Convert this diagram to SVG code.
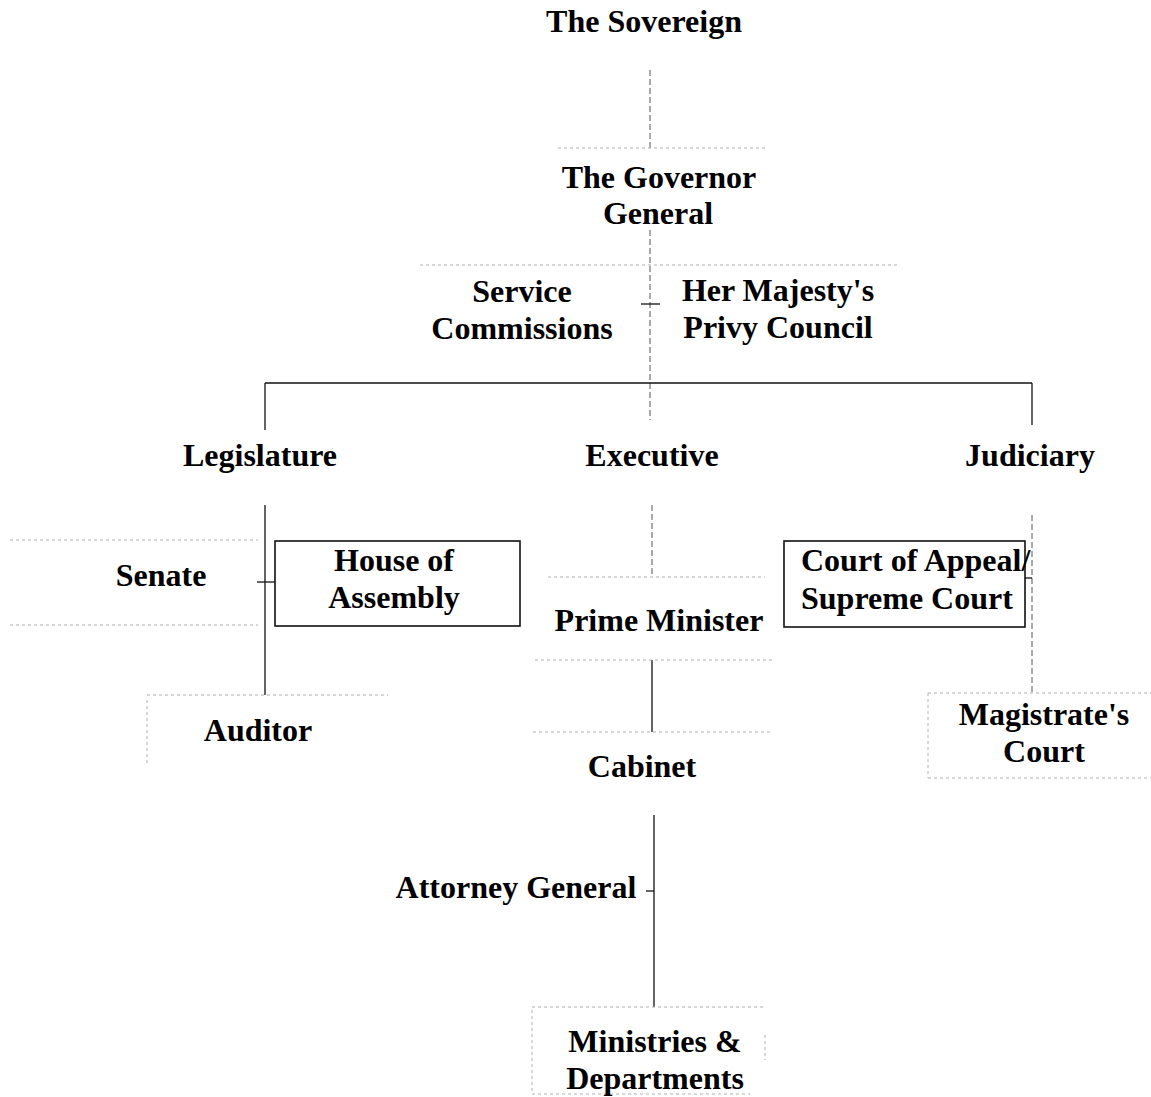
<svg xmlns="http://www.w3.org/2000/svg" width="1151" height="1097" viewBox="0 0 1151 1097">
<style>
text{font-family:"Liberation Serif","Times New Roman",serif;font-weight:bold;font-size:32px;fill:#000;text-anchor:middle}
.faint{stroke:#b0b0b0;stroke-width:1;stroke-dasharray:3,3;fill:none}
.dash{stroke:#555;stroke-width:1;stroke-dasharray:6,3;fill:none}
.solid{stroke:#111;stroke-width:1.3;fill:none}
.box{stroke:#111;stroke-width:1.6;fill:none}
</style>
<rect width="1151" height="1097" fill="#fff"/>
<g id="connectors">
<line class="dash" x1="650" y1="70" x2="650" y2="148"/>
<line class="dash" x1="650" y1="230" x2="650" y2="420"/>
<line class="solid" x1="641" y1="304" x2="660" y2="304"/>
<line class="solid" x1="265" y1="383" x2="1032" y2="383"/>
<line class="solid" x1="265" y1="383" x2="265" y2="430"/>
<line class="solid" x1="1032" y1="383" x2="1032" y2="425"/>
<line class="solid" x1="265" y1="505" x2="265" y2="695"/>
<line class="solid" x1="257" y1="582" x2="275" y2="582"/>
<line class="dash" x1="652" y1="505" x2="652" y2="577"/>
<line class="solid" x1="652" y1="660" x2="652" y2="732"/>
<line class="solid" x1="654" y1="815" x2="654" y2="1007"/>
<line class="solid" x1="646" y1="891" x2="654" y2="891"/>
<line class="dash" x1="1032" y1="515" x2="1032" y2="693"/>
<line class="solid" x1="1025" y1="578" x2="1032" y2="578"/>
</g>
<g id="sovereign"><text x="644" y="32">The Sovereign</text></g>
<g id="governor-general">
<line class="faint" x1="558" y1="148" x2="765" y2="148"/>
<text x="659" y="188">The Governor</text>
<text x="658" y="224">General</text>
</g>
<g id="service-privy-frame"><line class="faint" x1="420" y1="265" x2="900" y2="265"/></g>
<g id="service-commissions">
<text x="522" y="302">Service</text>
<text x="522" y="339">Commissions</text>
</g>
<g id="privy-council">
<text x="778" y="301">Her Majesty's</text>
<text x="778" y="338">Privy Council</text>
</g>
<g id="legislature"><text x="260" y="466">Legislature</text></g>
<g id="executive"><text x="652" y="466">Executive</text></g>
<g id="judiciary"><text x="1030" y="466">Judiciary</text></g>
<g id="senate">
<line class="faint" x1="10" y1="540" x2="258" y2="540"/>
<line class="faint" x1="10" y1="625" x2="258" y2="625"/>
<text x="161" y="586">Senate</text>
</g>
<g id="house-of-assembly">
<rect class="box" x="275" y="541" width="245" height="85"/>
<text x="394" y="571">House of</text>
<text x="394" y="608">Assembly</text>
</g>
<g id="auditor">
<line class="faint" x1="147" y1="695" x2="388" y2="695"/>
<line class="faint" x1="147" y1="700" x2="147" y2="765"/>
<text x="258" y="741">Auditor</text>
</g>
<g id="prime-minister">
<line class="faint" x1="548" y1="577" x2="765" y2="577"/>
<line class="faint" x1="535" y1="660" x2="775" y2="660"/>
<text x="659" y="631">Prime Minister</text>
</g>
<g id="cabinet">
<line class="faint" x1="533" y1="732" x2="772" y2="732"/>
<text x="642" y="777">Cabinet</text>
</g>
<g id="attorney-general"><text x="516" y="898">Attorney General</text></g>
<g id="ministries">
<line class="faint" x1="532" y1="1007" x2="765" y2="1007"/>
<line class="faint" x1="532" y1="1010" x2="532" y2="1092"/>
<line class="faint" x1="765" y1="1035" x2="765" y2="1060"/>
<line class="faint" x1="532" y1="1094" x2="750" y2="1094"/>
<text x="655" y="1052">Ministries &amp;</text>
<text x="655" y="1089">Departments</text>
</g>
<g id="court-of-appeal">
<rect class="box" x="784" y="541" width="241" height="86"/>
<text x="801" y="571" style="text-anchor:start">Court of Appeal/</text>
<text x="801" y="609" style="text-anchor:start">Supreme Court</text>
</g>
<g id="magistrates-court">
<line class="faint" x1="928" y1="693" x2="1151" y2="693"/>
<line class="faint" x1="928" y1="693" x2="928" y2="778"/>
<line class="faint" x1="928" y1="778" x2="1151" y2="778"/>
<text x="1044" y="725">Magistrate's</text>
<text x="1044" y="762">Court</text>
</g>
</svg>
